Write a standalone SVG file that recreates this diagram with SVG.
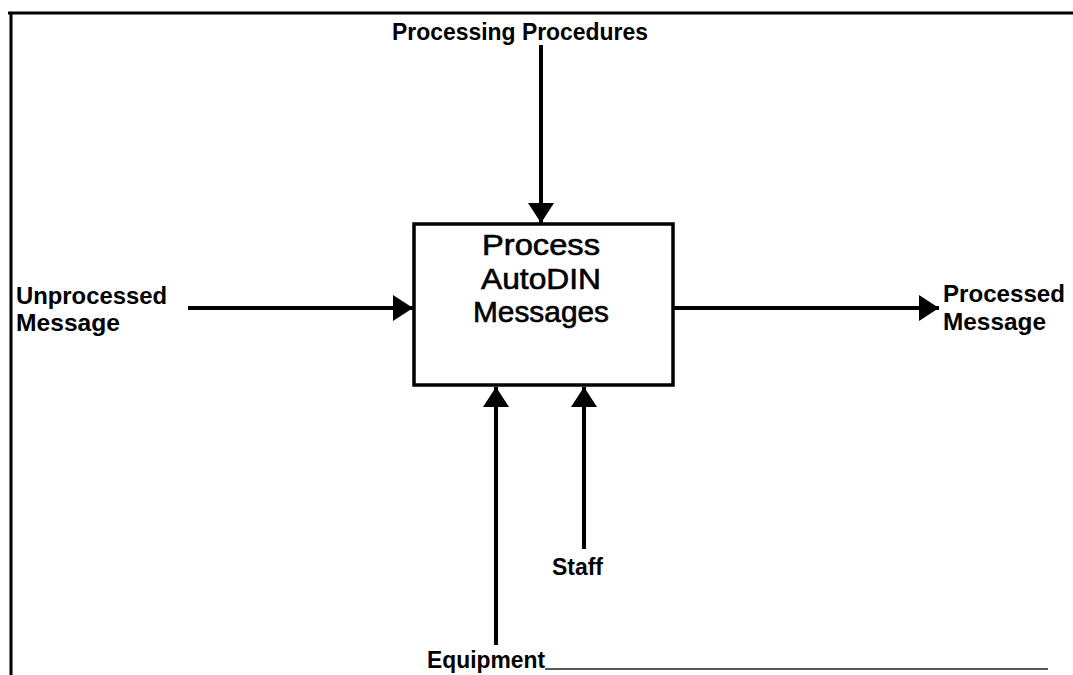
<svg xmlns="http://www.w3.org/2000/svg" width="1073" height="675" viewBox="0 0 1073 675">
<style>
.lbl{font-family:"Liberation Sans",Arial,sans-serif;font-weight:bold;font-size:24px;fill:#000}
.box{font-family:"Liberation Sans",Arial,sans-serif;font-size:29px;fill:#000;stroke:#000;stroke-width:0.6;text-anchor:middle}
.ln{stroke:#000;stroke-width:4;fill:none}
</style>
<defs>
<marker id="arr" viewBox="0 0 20 26" refX="20" refY="13" markerWidth="20" markerHeight="26" markerUnits="userSpaceOnUse" orient="auto">
<path d="M0,0 L20,13 L0,26 Z" fill="#000"/>
</marker>
</defs>
<rect width="1073" height="675" fill="#fff"/>
<g id="frame" fill="none">
<path d="M8,13 L1073,13" stroke="#000" stroke-width="3"/>
<path d="M11,12 L11,675" stroke="#000" stroke-width="3"/>
<path d="M545,669 L1048,669" stroke="#222" stroke-width="1.5"/>
</g>
<g id="connectors">
<path class="ln" d="M541,45 L541,223" marker-end="url(#arr)"/>
<path class="ln" d="M188,308 L413,308" marker-end="url(#arr)"/>
<path class="ln" d="M674,308 L939,308" marker-end="url(#arr)"/>
<path class="ln" d="M496,645 L496,387" marker-end="url(#arr)"/>
<path class="ln" d="M584,549 L584,387" marker-end="url(#arr)"/>
</g>
<g id="node-process">
<rect x="414" y="224" width="259" height="161" fill="#fff" stroke="#000" stroke-width="3.5"/>
<text class="box" x="541" y="255" textLength="118" lengthAdjust="spacingAndGlyphs">Process</text>
<text class="box" x="541" y="289" textLength="120" lengthAdjust="spacingAndGlyphs">AutoDIN</text>
<text class="box" x="541" y="322" textLength="136" lengthAdjust="spacingAndGlyphs">Messages</text>
</g>
<g id="label-procedures"><text class="lbl" x="392" y="40" font-size="23" textLength="256" lengthAdjust="spacingAndGlyphs">Processing Procedures</text></g>
<g id="label-unprocessed">
<text class="lbl" x="16" y="304" textLength="151" lengthAdjust="spacingAndGlyphs">Unprocessed</text>
<text class="lbl" x="16" y="331" textLength="104" lengthAdjust="spacingAndGlyphs">Message</text>
</g>
<g id="label-processed">
<text class="lbl" x="943" y="302" textLength="122" lengthAdjust="spacingAndGlyphs">Processed</text>
<text class="lbl" x="943" y="330" textLength="103" lengthAdjust="spacingAndGlyphs">Message</text>
</g>
<g id="label-staff"><text class="lbl" x="552" y="575" textLength="51" lengthAdjust="spacingAndGlyphs">Staff</text></g>
<g id="label-equipment"><text class="lbl" x="427" y="668" textLength="118" lengthAdjust="spacingAndGlyphs">Equipment</text></g>
</svg>
